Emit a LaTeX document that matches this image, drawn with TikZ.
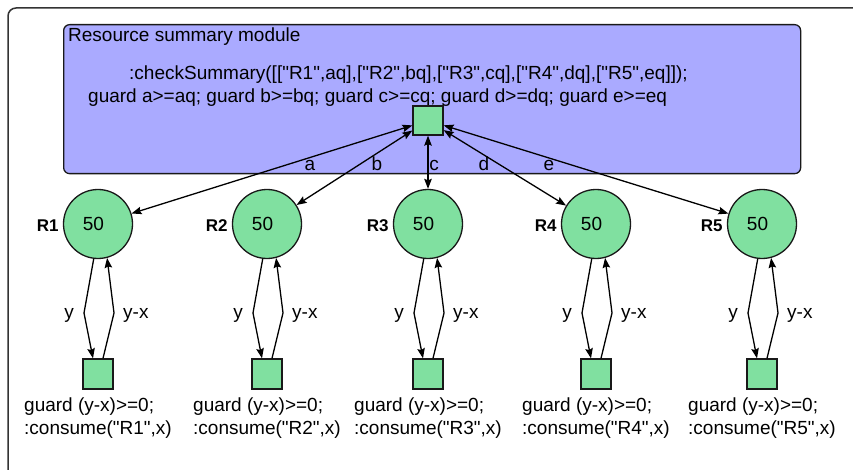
\documentclass[tikz,border=0pt]{standalone}
\usepackage{fontspec}
\setmainfont{Liberation Sans}[Ligatures=TeXOff]
\usetikzlibrary{arrows.meta,calc}
\definecolor{boxblue}{RGB}{170,170,255}
\definecolor{nodegreen}{RGB}{128,224,160}
\tikzset{
  mainfont/.style={font={\fontsize{19}{23}\selectfont}},
  modulebox/.style={draw=black!90, line width=1.3pt, fill=boxblue, rounded corners=6pt, inner sep=0pt},
  sqbox/.style={draw=black!90, line width=1.3pt, fill=nodegreen, inner sep=0pt},
  resnode/.style={circle, draw=black!90, line width=1.3pt, fill=nodegreen, minimum size=69pt, inner sep=0pt, mainfont},
  rlab/.style={font={\fontsize{17}{20}\selectfont\bfseries}, inner sep=0pt},
  txt/.style={mainfont, inner sep=0pt},
  conn/.style={line width=1.3pt, draw=black},
  tip/.tip={Stealth[length=10pt,width=7.5pt,inset=1.5pt]}
}
\begin{document}
\begin{tikzpicture}[x=1pt,y=-1pt]
\useasboundingbox (0,0) rectangle (853,470);
\begin{scope}
  \clip (0,0) rectangle (853,470);
  \draw[line width=1.5pt, draw=black!80, rounded corners=8pt] (8,8) rectangle (900,520);
\end{scope}

% module box
\node[modulebox, minimum width=737pt, minimum height=149pt, anchor=north west] (module) at (63,24) {};
\node[txt, anchor=base west] (title) at (68,42) {Resource summary module};
\node[txt, anchor=base west] (check) at (129,80) {:checkSummary([["R1",aq],["R2",bq],["R3",cq],["R4",dq],["R5",eq]]);};
\node[txt, anchor=base west] (guards) at (88,103) {guard a>=aq; guard b>=bq; guard c>=cq; guard d>=dq; guard e>=eq};

\node[sqbox, minimum width=30pt, minimum height=29pt] (top) at (428,120.5) {};

\foreach \i/\cx in {1/98,2/267,3/428,4/596,5/762}{
  \node[resnode] (c\i) at (\cx,224) {50\kern9pt};
  \node[rlab, anchor=east] (r\i) at ([xshift=-4pt,yshift=-2pt]c\i.west) {R\i};
  \node[sqbox, minimum size=30pt] (s\i) at (\cx,374) {};
  \coordinate (kl\i) at (\cx-14,313);
  \coordinate (kr\i) at (\cx+16,313);
  \draw[conn,-tip] (c\i.-97) -- (kl\i) -- ([xshift=-5pt]s\i.north);
  \draw[conn,-tip] ([xshift=5pt]s\i.north) -- (kr\i) -- (c\i.-75);
  \node[txt, anchor=east] (y\i) at ([xshift=-10pt,yshift=-2pt]kl\i) {y};
  \node[txt, anchor=west] (yx\i) at ([xshift=9pt,yshift=-2pt]kr\i) {y-x};
  \node[txt, anchor=north west, align=left] (g\i) at (\cx-74,398) {guard (y-x)>=0;\\:consume("R\i",x)};
  \draw[conn,tip-tip] (top) -- (c\i);
}

\node[txt, anchor=base] (la) at (310,171) {a};
\node[txt, anchor=base] (lb) at (377,171) {b};
\node[txt, anchor=base] (lc) at (434,171) {c};
\node[txt, anchor=base] (ld) at (484,171) {d};
\node[txt, anchor=base] (le) at (549,171) {e};
\end{tikzpicture}
\end{document}
